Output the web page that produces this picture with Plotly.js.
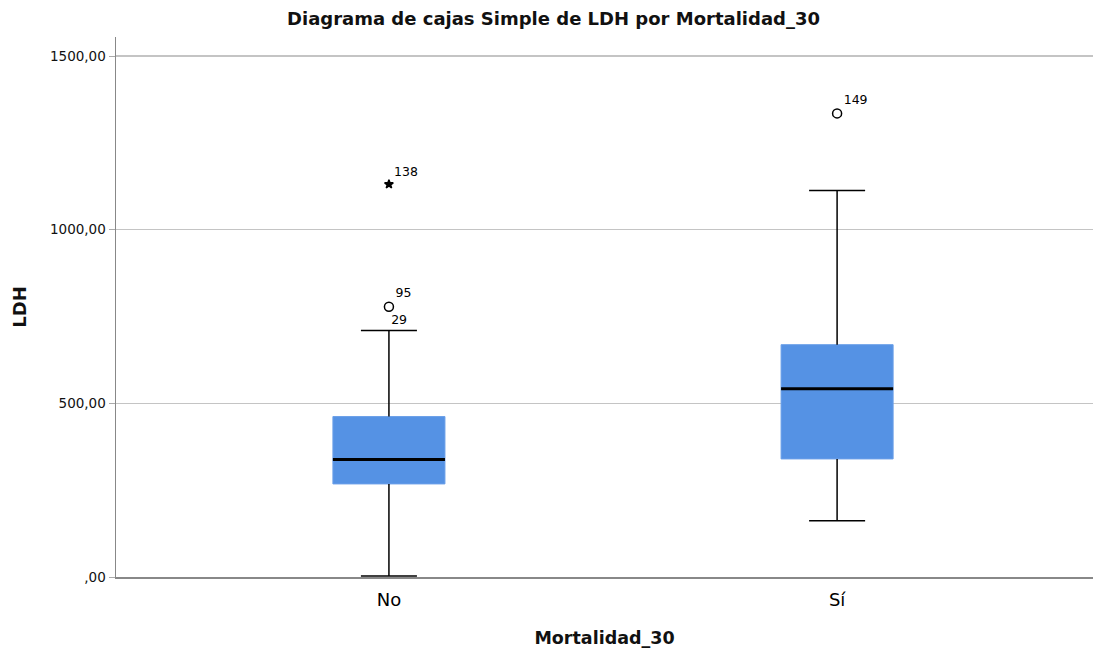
<!DOCTYPE html>
<html><head><meta charset="utf-8">
<script src="https://cdn.plot.ly/plotly-3.0.1.min.js"></script>
<style>body{margin:0;background:#fff}#c{width:1107px;height:653px}</style>
</head><body><div id="c"></div>
<script>
const categories = ['No', 'Sí'];
const lowerWhisker = [3, 162];
const q1 = [268, 340];
const median = [338, 542];
const q3 = [462, 669];
const upperWhisker = [710, 1113];
// outliers
const outCat = [0, 0, 0, 1];
const outVal = [778, 712, 1131, 1335];
const outLabel = ['95', '29', '138', '149'];
const outKind = ['o', 'label', '*', 'o'];
const yTickVals = [0, 500, 1000, 1500];
const yTickText = [',00', '500,00', '1000,00', '1500,00'];

const pos = categories.map((c, i) => i);
const BW = 0.25, CAP = 0.125;
const FONT = 'DejaVu Sans, Verdana, sans-serif';
const traces = [];
traces.push({
  type: 'box', x: pos, q1: q1, median: median, q3: q3,
  lowerfence: q1, upperfence: q3,
  fillcolor: '#5592E4', line: {color: '#6A9FE8', width: 1},
  width: BW, whiskerwidth: 0, boxpoints: false, hoverinfo: 'skip', showlegend: false
});
// whiskers and caps
const wx = [], wy = [];
pos.forEach((p, i) => {
  wx.push(p, p, null, p, p, null, p - CAP / 2, p + CAP / 2, null, p - CAP / 2, p + CAP / 2, null);
  wy.push(q3[i], upperWhisker[i], null, q1[i], lowerWhisker[i], null, upperWhisker[i], upperWhisker[i], null, lowerWhisker[i], lowerWhisker[i], null);
});
traces.push({type: 'scatter', mode: 'lines', x: wx, y: wy, line: {color: '#000', width: 1.5}, hoverinfo: 'skip', showlegend: false});
// medians
const mx = [], my = [];
pos.forEach((p, i) => { mx.push(p - BW / 2, p + BW / 2, null); my.push(median[i], median[i], null); });
traces.push({type: 'scatter', mode: 'lines', x: mx, y: my, line: {color: '#000', width: 3}, hoverinfo: 'skip', showlegend: false});
// outliers
traces.push({
  type: 'scatter', mode: 'markers+text',
  x: outCat.map(c => pos[c]), y: outVal, text: outLabel, textposition: 'top right',
  textfont: {family: FONT, size: 12.5, color: '#000'},
  marker: {
    symbol: outKind.map(k => k === '*' ? 'star' : 'circle-open'),
    size: outKind.map(k => k === '*' ? 6.5 : (k === 'label' ? 2 : 9)),
    color: '#000', opacity: outKind.map(k => k === 'label' ? 0 : 1),
    line: {color: '#000', width: 1.5}
  },
  cliponaxis: false, hoverinfo: 'skip', showlegend: false
});

const layout = {
  width: 1107, height: 653,
  margin: {l: 116, r: 14, t: 37, b: 76},
  paper_bgcolor: '#fff', plot_bgcolor: '#fff',
  font: {family: FONT, color: '#000'},
  title: {text: '<b>Diagrama de cajas Simple de LDH por Mortalidad_30</b>', font: {family: FONT, size: 18, color: '#111'}, x: 0.5, xanchor: 'center', y: 0.971, yanchor: 'middle'},
  xaxis: {
    range: [-0.609, 1.571], tickvals: pos, ticktext: categories, showgrid: false, zeroline: false,
    showline: true, linecolor: '#888', linewidth: 1.5, ticks: 'outside', ticklen: 6, tickcolor: 'rgba(0,0,0,0)',
    tickfont: {family: FONT, size: 18, color: '#000'},
    title: {text: '<b>Mortalidad_30</b>', font: {family: FONT, size: 17.5, color: '#111'}, standoff: 22}
  },
  yaxis: {
    range: [0, 1555], tickvals: yTickVals, ticktext: yTickText, showgrid: true, gridcolor: '#c4c4c4', gridwidth: 1.5,
    zeroline: false, showline: true, linecolor: '#888', linewidth: 1.5, ticks: 'outside', ticklen: 6, tickcolor: '#aaa',
    tickfont: {family: FONT, size: 13.5, color: '#111'},
    title: {text: '<b>LDH</b>', font: {family: FONT, size: 18, color: '#111'}, standoff: 18}
  }
};
Plotly.newPlot('c', traces, layout, {displayModeBar: false, staticPlot: true});
</script></body></html>
